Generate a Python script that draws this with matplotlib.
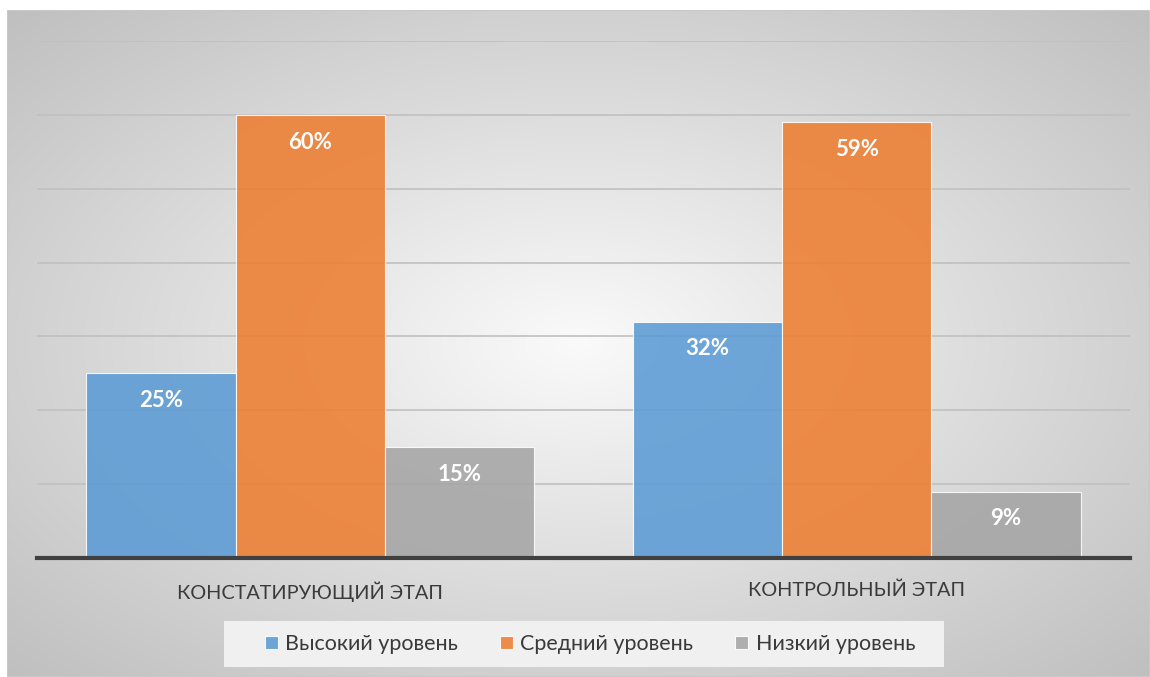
import matplotlib
matplotlib.use("Agg")
import matplotlib.pyplot as plt
import numpy as np
from matplotlib.patches import Rectangle

categories = ["КОНСТАТИРУЮЩИЙ ЭТАП", "КОНТРОЛЬНЫЙ ЭТАП"]
series_names = ["Высокий уровень", "Средний уровень", "Низкий уровень"]
high = [25, 32]
medium = [60, 59]
low = [15, 9]
colors = ["#5B9BD5", "#ED7D31", "#A5A5A5"]

plt.rcParams["font.family"] = ["Lato", "Noto Sans", "DejaVu Sans"]

fig = plt.figure(figsize=(11.5, 6.77), dpi=100)
fig.patch.set_facecolor("white")

# radial gradient panel behind the chart
bg = fig.add_axes([7 / 1150, 0, 1 - 7 / 1150, 1 - 10 / 677], zorder=0)
yy, xx = np.mgrid[-1:1:300j, -1:1:500j]
r = np.clip(np.sqrt(xx ** 2 + yy ** 2) / np.sqrt(2), 0, 1)
g = 0.98 - 0.23 * r
bg.imshow(np.dstack([g, g, g]), extent=[0, 1, 0, 1],
          aspect="auto", interpolation="bicubic")
bg.set_xlim(0, 1)
bg.set_ylim(0, 1)
bg.axis("off")
bg.add_patch(Rectangle((0, 0), 1, 1, fill=False, edgecolor="#c8c8c8", lw=1.5,
                       transform=bg.transAxes))

# legend background box
fig.patches.append(Rectangle((224 / 1150, 1 - 667 / 677), 720 / 1150, 46 / 677,
                             transform=fig.transFigure, facecolor="#f0f0f0",
                             edgecolor="none", zorder=1))

ax = fig.add_axes([37 / 1150, 1 - 558 / 677, 1093 / 1150, 517 / 677], zorder=1)
ax.patch.set_alpha(0)

x = np.arange(len(categories))
width = 0.273
for i, (vals, name) in enumerate(zip([high, medium, low], series_names)):
    pos = x + (i - 1) * width
    ax.bar(pos, vals, width, color=colors[i], alpha=0.88, edgecolor="white",
           linewidth=0.8, label=name, zorder=3)
    for p, v in zip(pos, vals):
        ax.text(p, v - 3.7, f"{v}%", ha="center", va="center", color="white",
                fontsize=16, fontweight="bold", zorder=4)

ax.set_xlim(-0.5, 1.5)
ax.set_ylim(0, 70)
ax.set_yticks(np.arange(10, 71, 10))
ax.yaxis.grid(True, color="#c0c0c0", linewidth=1.2, zorder=1)
ax.tick_params(axis="y", left=False, labelleft=False)
ax.tick_params(axis="x", length=0, pad=17, labelsize=14.3, labelcolor="#3a3a3a")
ax.set_xticks(x)
ax.set_xticklabels(categories)
for s in ["top", "right", "left"]:
    ax.spines[s].set_visible(False)
ax.spines["bottom"].set_color("#404040")
ax.spines["bottom"].set_linewidth(3)
ax.spines["bottom"].set_zorder(5)

leg = fig.legend(loc="center", bbox_to_anchor=(590 / 1150, 1 - 644 / 677), ncol=3,
                 frameon=False, fontsize=15.5, handlelength=0.6, handleheight=0.6,
                 columnspacing=1.95, handletextpad=0.35, borderpad=0.6)
for t in leg.get_texts():
    t.set_color("#3a3a3a")

fig.savefig("out.png", dpi=100)
